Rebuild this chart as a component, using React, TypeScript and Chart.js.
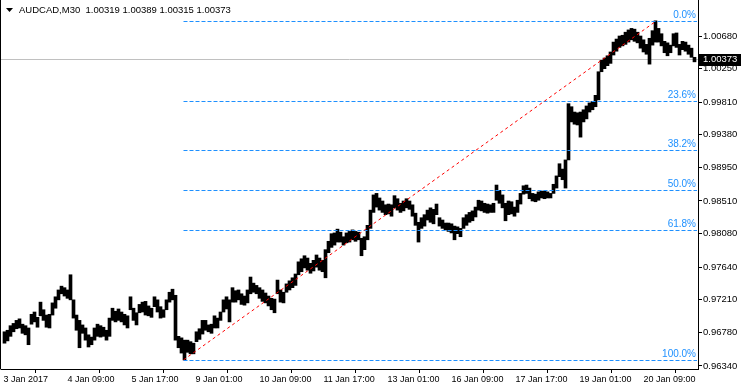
import React, { useEffect, useRef } from 'react';
import { Chart, registerables } from 'chart.js';

Chart.register(...registerables);

// ---- data ----
const SYMBOL = 'AUDCAD,M30';
const LAST_OHLC = ['1.00319', '1.00389', '1.00315', '1.00373'];
const LAST_PRICE = 1.00373;
// each entry = 3 consecutive M30 bars (price x 10000)
const BARS_PER_BLOCK = 3;
const HIGHS = [
  9679, 9681, 9687, 9690, 9694, 9696, 9689, 9687, 9684, 9702,
  9705, 9698, 9718, 9708, 9701, 9702, 9717, 9725, 9734, 9739,
  9737, 9734, 9754, 9721, 9701, 9694, 9688, 9684, 9675, 9672,
  9684, 9689, 9687, 9685, 9681, 9697, 9710, 9706, 9709, 9705,
  9702, 9700, 9725, 9710, 9704, 9715, 9718, 9719, 9713, 9710,
  9725, 9721, 9712, 9708, 9721, 9731, 9735, 9727, 9673, 9671,
  9668, 9668, 9666, 9664, 9679, 9683, 9694, 9694, 9688, 9689,
  9700, 9697, 9705, 9721, 9725, 9721, 9737, 9733, 9734, 9729,
  9726, 9734, 9751, 9743, 9740, 9737, 9734, 9730, 9726, 9723,
  9722, 9747, 9734, 9731, 9742, 9746, 9750, 9755, 9771, 9775,
  9779, 9776, 9769, 9773, 9780, 9776, 9773, 9787, 9798, 9808,
  9809, 9814, 9810, 9804, 9809, 9811, 9813, 9811, 9810, 9802,
  9804, 9819, 9839, 9859, 9861, 9855, 9851, 9846, 9847, 9846,
  9858, 9854, 9848, 9851, 9854, 9851, 9846, 9835, 9823, 9829,
  9833, 9839, 9842, 9840, 9847, 9829, 9826, 9822, 9822, 9821,
  9818, 9817, 9815, 9829, 9833, 9836, 9838, 9843, 9852, 9851,
  9848, 9847, 9846, 9848, 9872, 9865, 9859, 9848, 9851, 9850,
  9843, 9852, 9861, 9871, 9872, 9868, 9861, 9860, 9863, 9864,
  9864, 9863, 9861, 9873, 9884, 9900, 9893, 9905, 9979, 9975,
  9968, 9967, 9968, 9971, 9976, 9980, 9982, 9990, 10021, 10036,
  10039, 10042, 10047, 10060, 10064, 10068, 10069, 10073, 10076, 10078,
  10077, 10073, 10068, 10063, 10057, 10065, 10075, 10088, 10078, 10071,
  10061, 10059, 10056, 10071, 10072, 10057, 10061, 10060, 10056, 10052,
  10040,
];
const LOWS = [
  9664, 9667, 9673, 9679, 9683, 9684, 9677, 9675, 9662, 9689,
  9692, 9685, 9700, 9694, 9685, 9684, 9701, 9710, 9721, 9729,
  9726, 9723, 9721, 9697, 9681, 9658, 9677, 9668, 9659, 9662,
  9668, 9673, 9672, 9673, 9668, 9673, 9694, 9692, 9694, 9692,
  9688, 9684, 9708, 9694, 9688, 9704, 9705, 9701, 9700, 9698,
  9712, 9705, 9697, 9698, 9708, 9718, 9721, 9668, 9658, 9651,
  9642, 9652, 9650, 9650, 9666, 9669, 9676, 9681, 9679, 9677,
  9684, 9684, 9694, 9705, 9709, 9692, 9718, 9718, 9721, 9715,
  9714, 9717, 9729, 9731, 9729, 9723, 9719, 9717, 9713, 9708,
  9704, 9729, 9718, 9717, 9731, 9734, 9737, 9740, 9754, 9758,
  9763, 9760, 9756, 9759, 9764, 9760, 9758, 9750, 9783, 9790,
  9793, 9797, 9797, 9793, 9796, 9797, 9800, 9798, 9800, 9779,
  9787, 9800, 9815, 9836, 9843, 9839, 9836, 9833, 9834, 9831,
  9842, 9839, 9836, 9838, 9842, 9840, 9831, 9819, 9797, 9815,
  9818, 9826, 9823, 9821, 9833, 9818, 9815, 9813, 9811, 9809,
  9800, 9808, 9804, 9815, 9819, 9823, 9825, 9830, 9839, 9838,
  9836, 9835, 9836, 9836, 9852, 9848, 9842, 9825, 9833, 9834,
  9831, 9836, 9847, 9860, 9861, 9854, 9851, 9850, 9852, 9855,
  9854, 9855, 9855, 9861, 9868, 9883, 9879, 9868, 9905, 9955,
  9952, 9951, 9935, 9955, 9959, 9968, 9971, 9975, 9984, 10021,
  10025, 10029, 10032, 10043, 10048, 10053, 10055, 10057, 10060, 10063,
  10061, 10059, 10052, 10047, 10044, 10031, 10056, 10060, 10060, 10055,
  10046, 10042, 10046, 10055, 10053, 10043, 10050, 10048, 10044, 10040,
  10034,
];
const X_TICK_BARS = [0, 64, 128, 192, 256, 320, 384, 448, 512, 576, 640];
const X_TICK_LABELS = [
  '3 Jan 2017', '4 Jan 09:00', '5 Jan 17:00', '9 Jan 01:00', '10 Jan 09:00',
  '11 Jan 17:00', '13 Jan 01:00', '16 Jan 09:00', '17 Jan 17:00', '19 Jan 01:00', '20 Jan 09:00',
];
const Y_TICKS = [0.9634, 0.9678, 0.9721, 0.9764, 0.9808, 0.9851, 0.9895, 0.9938, 0.9981, 1.0025, 1.0068];
const FIB_LOW_BAR = 180;
const FIB_LOW_PRICE = 0.9642;
const FIB_HIGH_BAR = 653;
const FIB_HIGH_PRICE = 1.0088;
const FIB_LEVELS = [0, 0.236, 0.382, 0.5, 0.618, 1];
const FIB_LABELS = ['0.0%', '23.6%', '38.2%', '50.0%', '61.8%', '100.0%'];

// ---- view ----
const X_MIN = -2.5;
const X_MAX = 694.5;
const Y_MIN = 0.963005;
const Y_MAX = 1.011535;
const FONT = "'Liberation Sans', Arial, sans-serif";
const FIB_COLOR = '#1E90FF';

const overlayPlugin = {
  id: 'mtOverlay',
  beforeDatasetsDraw(chart: any) {
    const { ctx, chartArea, scales } = chart;
    const y = Math.round(scales.y.getPixelForValue(LAST_PRICE)) + 0.5;
    ctx.save();
    ctx.strokeStyle = '#c0c0c0';
    ctx.lineWidth = 1;
    ctx.beginPath();
    ctx.moveTo(chartArea.left, y);
    ctx.lineTo(chartArea.right, y);
    ctx.stroke();
    ctx.restore();
  },
  afterDatasetsDraw(chart: any) {
    const { ctx, chartArea, scales } = chart;
    const xs = scales.x;
    const ys = scales.y;
    ctx.save();
    const x0 = Math.round(xs.getPixelForValue(FIB_LOW_BAR)) - 0.5;
    const x1 = chartArea.right - 1;
    const range = FIB_HIGH_PRICE - FIB_LOW_PRICE;
    ctx.lineWidth = 1;
    ctx.font = `10px ${FONT}`;
    ctx.textAlign = 'right';
    ctx.textBaseline = 'bottom';
    FIB_LEVELS.forEach((lv, i) => {
      const price = FIB_HIGH_PRICE - lv * range;
      const y = Math.round(ys.getPixelForValue(price)) + 0.5;
      ctx.strokeStyle = FIB_COLOR;
      ctx.setLineDash([4, 2]);
      ctx.beginPath();
      ctx.moveTo(x0, y);
      ctx.lineTo(x1, y);
      ctx.stroke();
      ctx.fillStyle = FIB_COLOR;
      ctx.fillText(FIB_LABELS[i], chartArea.right - 2, y - 1.5);
    });
    ctx.strokeStyle = '#ff0000';
    ctx.setLineDash([3, 3]);
    ctx.beginPath();
    ctx.moveTo(xs.getPixelForValue(FIB_LOW_BAR), ys.getPixelForValue(FIB_LOW_PRICE));
    ctx.lineTo(xs.getPixelForValue(FIB_HIGH_BAR), ys.getPixelForValue(FIB_HIGH_PRICE));
    ctx.stroke();
    ctx.setLineDash([]);
    ctx.restore();
  },
  afterDraw(chart: any) {
    const { ctx, chartArea, scales, width } = chart;
    ctx.save();
    ctx.strokeStyle = '#000';
    ctx.lineWidth = 1;
    ctx.beginPath();
    ctx.moveTo(0.5, 0);
    ctx.lineTo(0.5, chartArea.bottom + 0.5);
    ctx.stroke();
    ctx.fillStyle = '#000';
    ctx.beginPath();
    ctx.moveTo(6, 8);
    ctx.lineTo(13, 8);
    ctx.lineTo(9.5, 12);
    ctx.closePath();
    ctx.fill();
    ctx.font = `9.5px ${FONT}`;
    ctx.textAlign = 'left';
    ctx.textBaseline = 'middle';
    ctx.fillText(`${SYMBOL}  ${LAST_OHLC.join(' ')}`, 19, 10.5);
    const y = Math.round(scales.y.getPixelForValue(LAST_PRICE)) + 0.5;
    ctx.fillStyle = '#000';
    ctx.fillRect(chartArea.right + 1, Math.round(y) - 6, width - chartArea.right - 1, 12);
    ctx.fillStyle = '#fff';
    ctx.font = `9.5px ${FONT}`;
    ctx.fillText(LAST_PRICE.toFixed(5), chartArea.right + 5, y);
    ctx.restore();
  },
};

export default function App() {
  const ref = useRef<HTMLCanvasElement | null>(null);
  useEffect(() => {
    if (!ref.current) return;
    const bars = HIGHS.map((h, k) => ({
      x: k * BARS_PER_BLOCK + 1,
      y: [LOWS[k] / 10000, h / 10000],
    }));
    const chart = new Chart(ref.current, {
      type: 'bar',
      data: {
        datasets: [
          {
            data: bars as any,
            backgroundColor: '#000',
            borderWidth: 0,
            barPercentage: 1,
            categoryPercentage: 1,
            grouped: false,
          } as any,
        ],
      },
      options: {
        responsive: false,
        animation: false,
        events: [],
        layout: { padding: { left: 1, top: 0, right: 0, bottom: 0 } },
        plugins: { legend: { display: false }, tooltip: { enabled: false } },
        scales: {
          x: {
            type: 'linear',
            min: X_MIN,
            max: X_MAX,
            offset: false,
            grid: { display: true, drawOnChartArea: false, drawTicks: true, tickLength: 4, color: '#000', lineWidth: 1 },
            border: { display: true, color: '#000', width: 1 },
            ticks: {
              autoSkip: false,
              maxRotation: 0,
              minRotation: 0,
              align: 'start',
              padding: 1,
              color: '#000',
              font: { family: FONT, size: 9 },
              callback: (_v: any, i: number) => X_TICK_LABELS[i],
            },
            afterBuildTicks: (s: any) => {
              s.ticks = X_TICK_BARS.map((v) => ({ value: v }));
            },
            afterFit: (s: any) => {
              s.height = 21;
              s.paddingLeft = 0;
              s.paddingRight = 0;
            },
          },
          y: {
            type: 'linear',
            position: 'right',
            min: Y_MIN,
            max: Y_MAX,
            grid: { display: true, drawOnChartArea: false, drawTicks: true, tickLength: 4, color: '#000', lineWidth: 1 },
            border: { display: true, color: '#000', width: 1 },
            ticks: {
              padding: 1,
              color: '#000',
              font: { family: FONT, size: 9.5 },
              callback: (v: any) => Number(v).toFixed(5),
            },
            afterBuildTicks: (s: any) => {
              s.ticks = Y_TICKS.map((v) => ({ value: v }));
            },
            afterFit: (s: any) => {
              s.width = 43;
              s.paddingTop = 0;
              s.paddingBottom = 0;
            },
          },
        },
      } as any,
      plugins: [overlayPlugin],
    });
    return () => chart.destroy();
  }, []);
  return (
    <div style={{ position: 'absolute', left: 0, top: 0, width: 741, height: 390, background: '#fff' }}>
      <canvas ref={ref} width={741} height={390} style={{ width: 741, height: 390, display: 'block' }} />
    </div>
  );
}
